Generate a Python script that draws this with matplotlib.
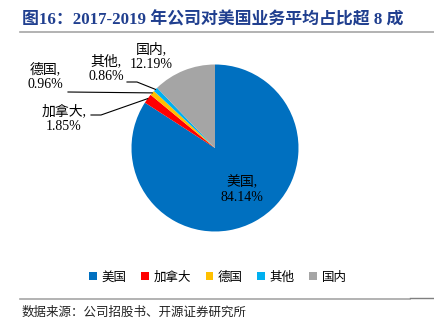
import numpy as np
import matplotlib.pyplot as plt
from matplotlib.patches import Patch

names = ["美国", "加拿大", "德国", "其他", "国内"]
shares = [84.14, 1.85, 0.96, 0.86, 12.19]
colors = ["#0070C0", "#FF0000", "#FFC000", "#00B0F0", "#A5A5A5"]

title = "图16：2017-2019 年公司对美国业务平均占比超 8 成"
source = "数据来源：公司招股书、开源证券研究所"

W, H = 434, 334
serif = ["Liberation Serif", "Noto Sans CJK SC"]
sans = ["Noto Sans CJK SC", "DejaVu Sans"]

fig = plt.figure(figsize=(W / 100, H / 100), dpi=100)
ax = fig.add_axes([0, 0, 1, 1])


def py(y):
    # pixel row (from top) -> data y
    return H - y


cx, cy, R = 215, 148, 83.5
wedges, _ = ax.pie(shares, colors=colors, startangle=90, counterclock=False,
                   center=(cx, py(cy)), radius=R, frame=True,
                   wedgeprops=dict(linewidth=0))
ax.set_xlim(0, W)
ax.set_ylim(0, H)
ax.set_aspect("auto")
ax.axis("off")

# label centers (pixel coords) and leader line start points
lab_pos = {0: (242, 190), 1: (64, 119), 2: (45, 77), 3: (106, 69), 4: (151, 57)}
lead_start = {1: (91, 115), 2: (68, 92), 3: (127, 82)}
lead_elbow = {1: 10, 2: 0, 3: 10}

for i, (x, y) in lab_pos.items():
    ax.text(x, py(y), f"{names[i]},\n{shares[i]:.2f}%", ha="center", va="center",
            fontsize=10, family=serif, linespacing=1.15, color="black")

for i, (sx, sy) in lead_start.items():
    w = wedges[i]
    mid = np.deg2rad((w.theta1 + w.theta2) / 2)
    ex, ey = cx + R * np.cos(mid), py(cy) + R * np.sin(mid)
    ax.plot([sx, sx + lead_elbow[i], ex], [py(sy), py(sy), ey],
            color="black", lw=0.8)

handles = [Patch(facecolor=c, edgecolor="none") for c in colors]
fig.legend(handles, names, loc="center", bbox_to_anchor=(218 / W, 1 - 277 / H),
           ncol=5, frameon=False, prop={"family": sans, "size": 9},
           handlelength=0.6, handleheight=0.6, handletextpad=0.4,
           columnspacing=1.15)

fig.text(22 / W, 1 - 20 / H, title, ha="left", va="center", fontsize=12.2,
         fontweight="bold", family=serif, color="#203F8F")
fig.text(22 / W, 1 - 312 / H, source, ha="left", va="center", fontsize=9,
         family=sans, color="#222222")

ax.plot([20, W], [py(32), py(32)], color="#A6A6A6", lw=1.2)
ax.plot([20, 410], [py(299), py(299)], color="#A6A6A6", lw=1.2)
ax.plot([410, W], [py(298), py(298)], color="#7F7F7F", lw=1.0)

fig.savefig("out.png", dpi=100)
